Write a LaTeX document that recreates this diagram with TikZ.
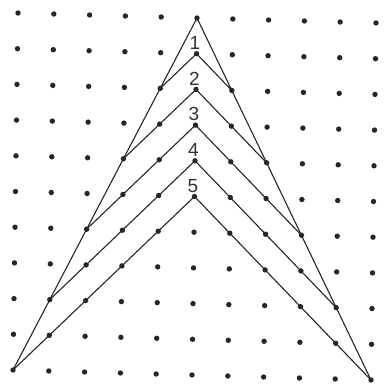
\documentclass[tikz,border=0pt]{standalone}
\usepackage{fontspec}
\setsansfont{Liberation Sans}
\begin{document}
\begin{tikzpicture}[
  x={(35.8pt,-1pt)}, y={(-0.5pt,-35.7pt)},
  dot/.style={circle, fill=black!85, inner sep=0pt, minimum size=5.4pt},
  edge/.style={draw=black!85, line width=1.1pt, line join=round},
  lbl/.style={font=\sffamily\fontsize{19}{19}\selectfont, text=black!80, inner sep=0pt}
]
\useasboundingbox (-18pt,13pt) rectangle (367pt,-377pt);
\fill[white] (-18pt,13pt) rectangle (367pt,-377pt);
% dot grid
\foreach \i in {0,...,10}{
  \foreach \j in {0,...,10}{
    \node[dot] (d-\i-\j) at (\i,\j) {};
  }
}
% outer triangle
\draw[edge] (d-0-10.center) -- (d-5-0.center) -- (d-10-10.center);
% chevrons
\foreach \k [evaluate=\k as \l using int(5-\k), evaluate=\k as \r using int(5+\k), evaluate=\k as \b using int(2*\k)] in {1,...,5}{
  \draw[edge] (d-\l-\b.center) -- (d-5-\k.center) -- (d-\r-\b.center);
}
% labels
\foreach \k in {1,...,5}{
  \node[lbl] (l\k) at (4.95,\k-0.3) {\k};
}
\end{tikzpicture}
\end{document}
